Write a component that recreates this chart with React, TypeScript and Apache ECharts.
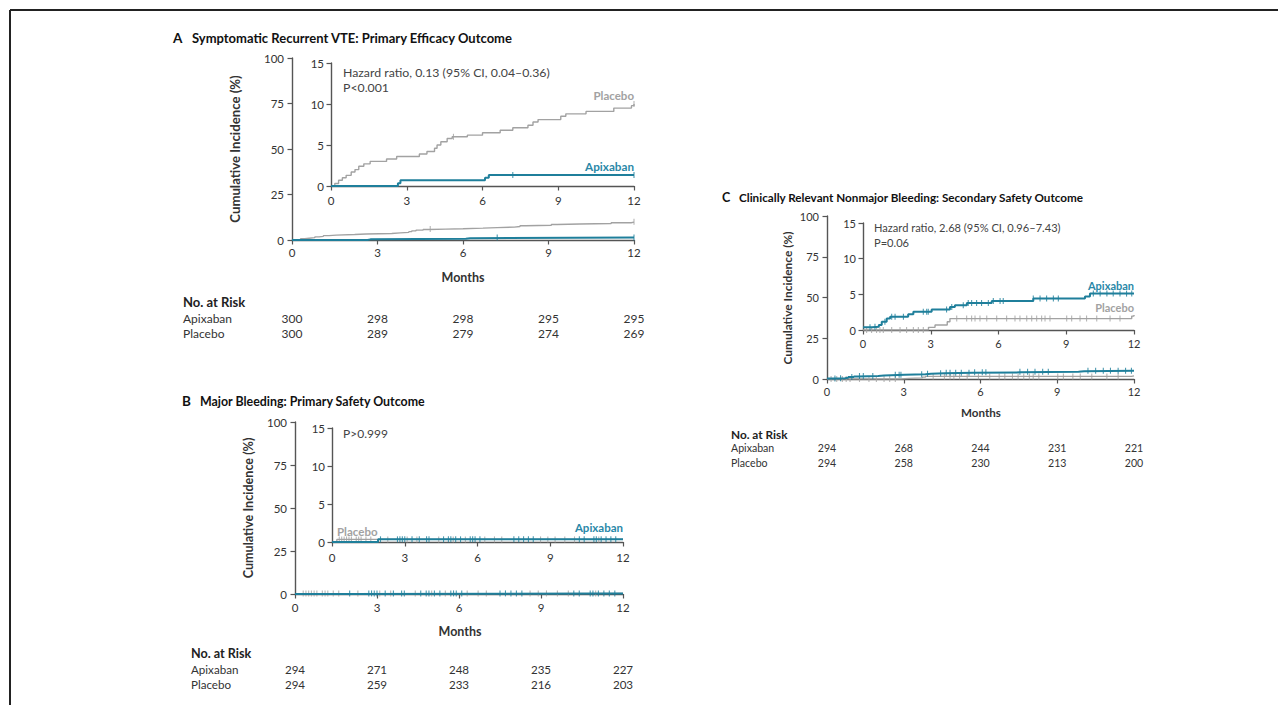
import React, { useEffect, useRef } from "react";
import * as echarts from "echarts";

const F = "Lato, 'Open Sans', sans-serif";
const TEAL = "#1f7f9b";
const TEAL_LBL = "#2a88a8";
const GRAY = "#a2a2a2";
const AXIS = "#555555";
const TXT = "#333333";

const monthTicks = [0, 3, 6, 9, 12];

// Panel A: Symptomatic recurrent VTE
const aPlacebo: number[][] = [
  [0, 0], [0.15, 0.3], [0.3, 0.7], [0.45, 1.0], [0.6, 1.3], [0.8, 1.7], [0.95, 2.0],
  [1.1, 2.4], [1.3, 2.7], [1.55, 3.0], [2.2, 3.3], [2.6, 3.6], [3.5, 3.9], [3.8, 4.2],
  [4.1, 4.6], [4.2, 5.0], [4.35, 5.4], [4.6, 5.8], [4.8, 6.0], [5.4, 6.2], [6.0, 6.5],
  [6.7, 6.8], [7.2, 7.1], [7.8, 7.4], [8.0, 7.8], [8.2, 8.1], [9.1, 8.5], [9.3, 8.8],
  [10.1, 9.1], [11.2, 9.5], [11.9, 9.8], [12, 10.0],
];
const aApixaban: number[][] = [[0, 0], [2.65, 0.35], [2.75, 0.7], [6.1, 1.0], [6.25, 1.35], [12, 1.35]];
const aPlaceboCensor = [4.85, 12];
const aApixabanCensor = [7.2, 12];
const aRiskApixaban = [300, 298, 298, 295, 295];
const aRiskPlacebo = [300, 289, 279, 274, 269];

// Panel B: Major bleeding
const bPlacebo: number[][] = [[0, 0], [0.2, 0.34], [12, 0.34]];
const bApixaban: number[][] = [[0, 0], [1.9, 0.35], [12, 0.35]];
const bPlaceboCensor = [0.3, 0.4, 0.5, 0.6, 0.7, 0.8, 1.0, 1.1, 1.2, 1.4, 1.6, 2.3, 3.1, 3.5, 4.4, 5.0, 5.5, 6.3, 6.7, 7.0, 8.6, 8.9, 9.2, 9.6, 10.0, 11.0];
const bApixabanCensor = [2.0, 2.7, 2.8, 2.9, 3.0, 3.3, 3.6, 3.9, 4.0, 4.6, 4.8, 4.9, 5.1, 5.3, 5.7, 5.8, 5.9, 6.1, 7.5, 7.7, 7.9, 8.1, 8.3, 10.2, 10.4, 10.8, 10.9, 11.1, 11.3, 11.5, 11.7];
const bRiskApixaban = [294, 271, 248, 235, 227];
const bRiskPlacebo = [294, 259, 233, 216, 203];

// Panel C: Clinically relevant nonmajor bleeding
const cApixaban: number[][] = [
  [0, 0.37], [0.4, 0.46], [0.7, 0.7], [0.83, 1.16], [1.05, 1.6], [1.2, 1.85], [2.0, 2.2],
  [2.23, 2.55], [3.04, 2.87], [3.85, 3.24], [4.07, 3.47], [4.6, 3.8], [5.7, 4.07],
  [7.54, 4.4], [9.83, 4.7], [10.05, 5.1], [12, 5.1],
];
const cPlacebo: number[][] = [[0, 0], [2.9, 0.37], [3.19, 0.7], [3.73, 1.16], [3.85, 1.6], [11.9, 1.95], [12, 2.1]];
const cApixabanCensor = [0.31, 0.53, 0.97, 1.27, 1.42, 1.79, 2.67, 2.82, 2.89, 3.7, 3.93, 4.44, 4.66, 4.81, 5.03, 5.25, 5.55, 5.77, 6.07, 6.21, 7.54, 7.84, 8.13, 8.43, 8.65, 10.2, 10.5, 10.8, 11.08, 11.38, 11.67, 11.9];
const cPlaceboCensor = [0.16, 0.38, 0.6, 0.75, 0.9, 1.27, 1.64, 1.93, 2.23, 2.45, 2.67, 4.15, 4.59, 4.81, 4.96, 5.18, 5.48, 5.92, 6.36, 6.73, 6.95, 7.25, 7.47, 7.69, 7.91, 8.06, 8.28, 9.02, 9.24, 9.61, 9.9, 10.35, 10.94, 11.38];
const cRiskApixaban = [294, 268, 244, 231, 221];
const cRiskPlacebo = [294, 258, 230, 213, 200];

function valueAt(steps: number[][], t: number) {
  let v = 0;
  for (const p of steps) if (p[0] <= t) v = p[1];
  return v;
}

type Box = { left: number; top: number; width: number; height: number };
type PanelDef = {
  main: Box; inset: Box; tick: number;
  xMarginMain: number; xMarginInset: number;
  placebo: number[][]; apixaban: number[][];
  placeboCensor: number[]; apixabanCensor: number[];
};

const panels: PanelDef[] = [
  { main: { left: 292, top: 58, width: 342, height: 182 }, inset: { left: 331, top: 63, width: 303, height: 123 }, tick: 11.5,
    xMarginMain: 6, xMarginInset: 8, placebo: aPlacebo, apixaban: aApixaban, placeboCensor: aPlaceboCensor, apixabanCensor: aApixabanCensor },
  { main: { left: 295, top: 422, width: 328, height: 172 }, inset: { left: 332, top: 428, width: 291, height: 114 }, tick: 11.5,
    xMarginMain: 7, xMarginInset: 9, placebo: bPlacebo, apixaban: bApixaban, placeboCensor: bPlaceboCensor, apixabanCensor: bApixabanCensor },
  { main: { left: 827, top: 216, width: 307, height: 163 }, inset: { left: 863, top: 223, width: 271, height: 107 }, tick: 11,
    xMarginMain: 7, xMarginInset: 8, placebo: cPlacebo, apixaban: cApixaban, placeboCensor: cPlaceboCensor, apixabanCensor: cApixabanCensor },
];

function buildOption() {
  const grid: any[] = [];
  const xAxis: any[] = [];
  const yAxis: any[] = [];
  const series: any[] = [];
  panels.forEach((p, pi) => {
    [p.main, p.inset].forEach((b, k) => {
      const gi = pi * 2 + k;
      grid.push({ left: b.left, top: b.top, width: b.width, height: b.height, containLabel: false });
      const axisLine = { show: true, onZero: false, lineStyle: { color: AXIS, width: 1.4 } };
      const axisTick = { show: true, inside: false, length: 4.5, lineStyle: { color: AXIS, width: 1.2 } };
      xAxis.push({
        type: "value", gridIndex: gi, min: 0, max: 12, interval: 3,
        axisLine, axisTick, splitLine: { show: false },
        axisLabel: { color: TXT, fontSize: p.tick, fontFamily: F, margin: k === 0 ? p.xMarginMain : p.xMarginInset, showMinLabel: true, showMaxLabel: true },
      });
      yAxis.push({
        type: "value", gridIndex: gi, min: 0, max: k === 0 ? 100 : 15, interval: k === 0 ? 25 : 5,
        axisLine, axisTick, splitLine: { show: false },
        axisLabel: { color: TXT, fontSize: p.tick, fontFamily: F, margin: k === 0 ? 8 : 7 },
      });
      const curves = [
        { d: p.placebo, c: p.placeboCensor, col: GRAY, w: 1.4, z: 2 },
        { d: p.apixaban, c: p.apixabanCensor, col: TEAL, w: 2, z: 3 },
      ];
      curves.forEach((cv) => {
        series.push({
          type: "line", xAxisIndex: gi, yAxisIndex: gi, data: cv.d, step: "end",
          showSymbol: false, symbol: "none", lineStyle: { color: cv.col, width: cv.w }, z: cv.z, silent: true,
        });
        series.push({
          type: "scatter", xAxisIndex: gi, yAxisIndex: gi,
          data: cv.c.map((t) => [t, valueAt(cv.d, t)]),
          symbol: "rect", symbolSize: [1.1, 6], itemStyle: { color: cv.col }, z: cv.z, silent: true,
        });
      });
    });
  });

  const txt = (text: string, x: number, y: number, o: any = {}) => ({
    type: "text", x, y, rotation: o.rot || 0, silent: true, z: 10,
    style: {
      text, x: 0, y: 0, fill: o.fill || TXT,
      font: `${o.bold ? "bold " : ""}${o.size || 11}px ${F}`,
      fontSize: o.size || 11, fontWeight: o.bold ? "bold" : "normal", fontFamily: F,
      textAlign: o.align || "left", align: o.align || "left",
      textVerticalAlign: "middle", verticalAlign: "middle",
    },
  });

  const graphic: any[] = [];
  // frame
  graphic.push({ type: "line", shape: { x1: 10, y1: 10, x2: 1278, y2: 10 }, style: { stroke: "#222", lineWidth: 2 }, silent: true });
  graphic.push({ type: "line", shape: { x1: 10, y1: 10, x2: 10, y2: 705 }, style: { stroke: "#222", lineWidth: 2 }, silent: true });

  // Panel A texts
  graphic.push(txt("A", 173, 38, { bold: true, size: 13.5, fill: "#111" }));
  graphic.push(txt("Symptomatic Recurrent VTE: Primary Efficacy Outcome", 192, 38, { bold: true, size: 13, fill: "#111" }));
  graphic.push(txt("Cumulative Incidence (%)", 235, 149, { bold: true, size: 13.2, rot: Math.PI / 2, align: "center" }));
  graphic.push(txt("Hazard ratio, 0.13 (95% CI, 0.04\u20130.36)", 343, 72, { size: 12.3, fill: "#444" }));
  graphic.push(txt("P<0.001", 343, 87, { size: 12.3, fill: "#444" }));
  graphic.push(txt("Placebo", 634, 95, { size: 11.5, bold: true, fill: GRAY, align: "right" }));
  graphic.push(txt("Apixaban", 634, 166, { size: 11.7, bold: true, fill: TEAL_LBL, align: "right" }));
  graphic.push(txt("Months", 463, 277, { bold: true, size: 12.5, align: "center" }));
  // Panel B
  graphic.push(txt("B", 182, 401, { bold: true, size: 13.5, fill: "#111" }));
  graphic.push(txt("Major Bleeding: Primary Safety Outcome", 200, 401, { bold: true, size: 12.4, fill: "#111" }));
  graphic.push(txt("Cumulative Incidence (%)", 248, 508, { bold: true, size: 12.6, rot: Math.PI / 2, align: "center" }));
  graphic.push(txt("P>0.999", 343, 433, { size: 12, fill: "#444" }));
  graphic.push(txt("Placebo", 337, 531, { size: 11.5, bold: true, fill: GRAY }));
  graphic.push(txt("Apixaban", 623, 527, { size: 11.5, bold: true, fill: TEAL_LBL, align: "right" }));
  graphic.push(txt("Months", 460, 631, { bold: true, size: 12.5, align: "center" }));
  // Panel C
  graphic.push(txt("C", 722, 197, { bold: true, size: 12.5, fill: "#111" }));
  graphic.push(txt("Clinically Relevant Nonmajor Bleeding: Secondary Safety Outcome", 739, 197, { bold: true, size: 11.7, fill: "#111" }));
  graphic.push(txt("Cumulative Incidence (%)", 787, 298, { bold: true, size: 11.9, rot: Math.PI / 2, align: "center" }));
  graphic.push(txt("Hazard ratio, 2.68 (95% CI, 0.96\u20137.43)", 874, 227, { size: 11.1, fill: "#444" }));
  graphic.push(txt("P=0.06", 874, 242, { size: 11.1, fill: "#444" }));
  graphic.push(txt("Apixaban", 1134, 285, { size: 11, bold: true, fill: TEAL_LBL, align: "right" }));
  graphic.push(txt("Placebo", 1134, 307, { size: 11, bold: true, fill: GRAY, align: "right" }));
  graphic.push(txt("Months", 981, 412, { bold: true, size: 11.6, align: "center" }));

  // risk tables
  const risk = (x0: number, yh: number, y1: number, y2: number, xs: number[], ra: number[], rp: number[], size: number, hsize: number) => {
    graphic.push(txt("No. at Risk", x0, yh, { bold: true, size: hsize, fill: "#222" }));
    graphic.push(txt("Apixaban", x0, y1, { size }));
    graphic.push(txt("Placebo", x0, y2, { size }));
    xs.forEach((x, i) => {
      graphic.push(txt(String(ra[i]), x, y1, { size, align: "center" }));
      graphic.push(txt(String(rp[i]), x, y2, { size, align: "center" }));
    });
  };
  const tickX = (b: Box) => monthTicks.map((m) => b.left + (m / 12) * b.width);
  risk(183, 302, 318, 333, tickX(panels[0].main), aRiskApixaban, aRiskPlacebo, 12, 13);
  risk(191, 653, 669, 684, tickX(panels[1].main), bRiskApixaban, bRiskPlacebo, 11.6, 12.6);
  risk(731, 434, 448, 463, tickX(panels[2].main), cRiskApixaban, cRiskPlacebo, 10.6, 11.8);

  return { animation: false, backgroundColor: "#ffffff", grid, xAxis, yAxis, series, graphic };
}

export default function App() {
  const ref = useRef<HTMLDivElement>(null);
  useEffect(() => {
    document.body.style.margin = "0";
    const chart = echarts.init(ref.current!, undefined, { renderer: "svg" });
    chart.setOption(buildOption());
    return () => chart.dispose();
  }, []);
  return <div ref={ref} style={{ width: 1278, height: 723, background: "#fff" }} />;
}
